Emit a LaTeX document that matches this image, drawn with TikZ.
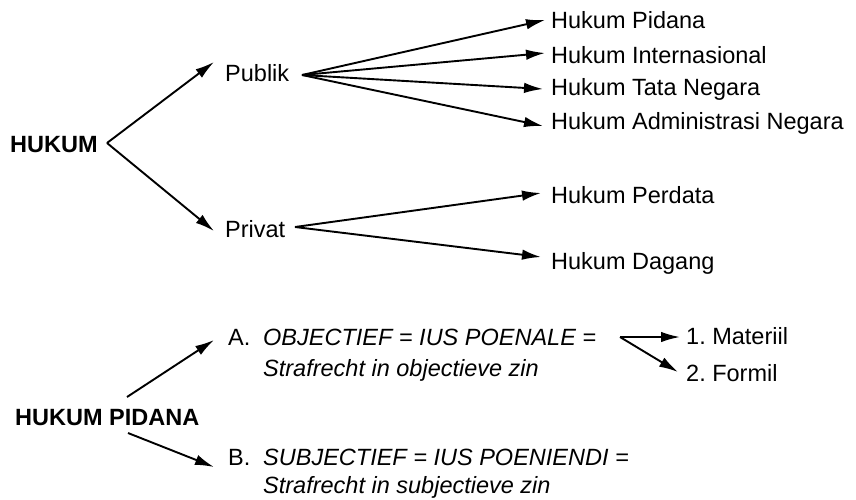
\documentclass[tikz,border=0pt]{standalone}
\usepackage{fontspec}
\setmainfont{Liberation Sans}
\usetikzlibrary{arrows.meta}
\frenchspacing
\begin{document}
\begin{tikzpicture}[x=1pt,y=-1pt,
  lbl/.style={anchor=base west,inner sep=0pt,font=\fontsize{23.5}{28}\selectfont},
  blbl/.style={lbl,font=\fontsize{23.5}{28}\selectfont\bfseries},
  ilbl/.style={lbl,font=\fontsize{23.5}{28}\selectfont\itshape},
  arr/.style={line width=1.9pt,-{Latex[length=19pt,width=10.5pt]}}]
\useasboundingbox (0,0) rectangle (856,499);
% ---- HUKUM tree ----
\node[blbl] (hukum) at (10,152) {HUKUM};
\coordinate (hA) at (107,143);
\node[lbl] (publik) at (225,81) {Publik};
\node[lbl] (privat) at (225,237) {Privat};
\coordinate (pubT) at (214,62);
\coordinate (prvT) at (214,231);
\draw[arr] (hA) -- (pubT);
\draw[arr] (hA) -- (prvT);
\coordinate (pubA) at (302,75);
\coordinate (prvA) at (295,227);
\node[lbl] (pid) at (551,28) {Hukum Pidana};
\node[lbl] (int) at (551,63) {Hukum Internasional};
\node[lbl] (tata) at (551,95) {Hukum Tata Negara};
\node[lbl] (adm) at (551,129) {Hukum Administrasi Negara};
\node[lbl] (per) at (551,203) {Hukum Perdata};
\node[lbl] (dag) at (551,269) {Hukum Dagang};
\coordinate (pidT) at (545,20);
\coordinate (intT) at (545,53);
\coordinate (tataT) at (543,89);
\coordinate (admT) at (543,126);
\coordinate (perT) at (541,193);
\coordinate (dagT) at (541,257);
\draw[arr] (pubA) -- (pidT);
\draw[arr] (pubA) -- (intT);
\draw[arr] (pubA) -- (tataT);
\draw[arr] (pubA) -- (admT);
\draw[arr] (prvA) -- (perT);
\draw[arr] (prvA) -- (dagT);
% ---- HUKUM PIDANA ----
\node[blbl] (hp) at (15,425) {HUKUM PIDANA};
\coordinate (hpU) at (127,397);
\coordinate (hpD) at (128,433);
\coordinate (aT) at (214,340);
\coordinate (bT) at (214,467);
\draw[arr] (hpU) -- (aT);
\draw[arr] (hpD) -- (bT);
\node[lbl] (aL) at (228,345) {A.};
\node[ilbl] (a1) at (263,345) {OBJECTIEF = IUS POENALE =};
\node[ilbl] (a2) at (263,376) {Strafrecht in objectieve zin};
\node[lbl] (bL) at (228,465) {B.};
\node[ilbl] (b1) at (263,465) {SUBJECTIEF = IUS POENIENDI =};
\node[ilbl] (b2) at (263,493) {Strafrecht in subjectieve zin};
\coordinate (mA) at (620,337);
\coordinate (m1T) at (680,337);
\coordinate (m2T) at (678,372);
\draw[arr] (mA) -- (m1T);
\draw[arr] (mA) -- (m2T);
\node[lbl] (mat) at (686,344) {1. Materiil};
\node[lbl] (form) at (686,381) {2. Formil};
\end{tikzpicture}
\end{document}
